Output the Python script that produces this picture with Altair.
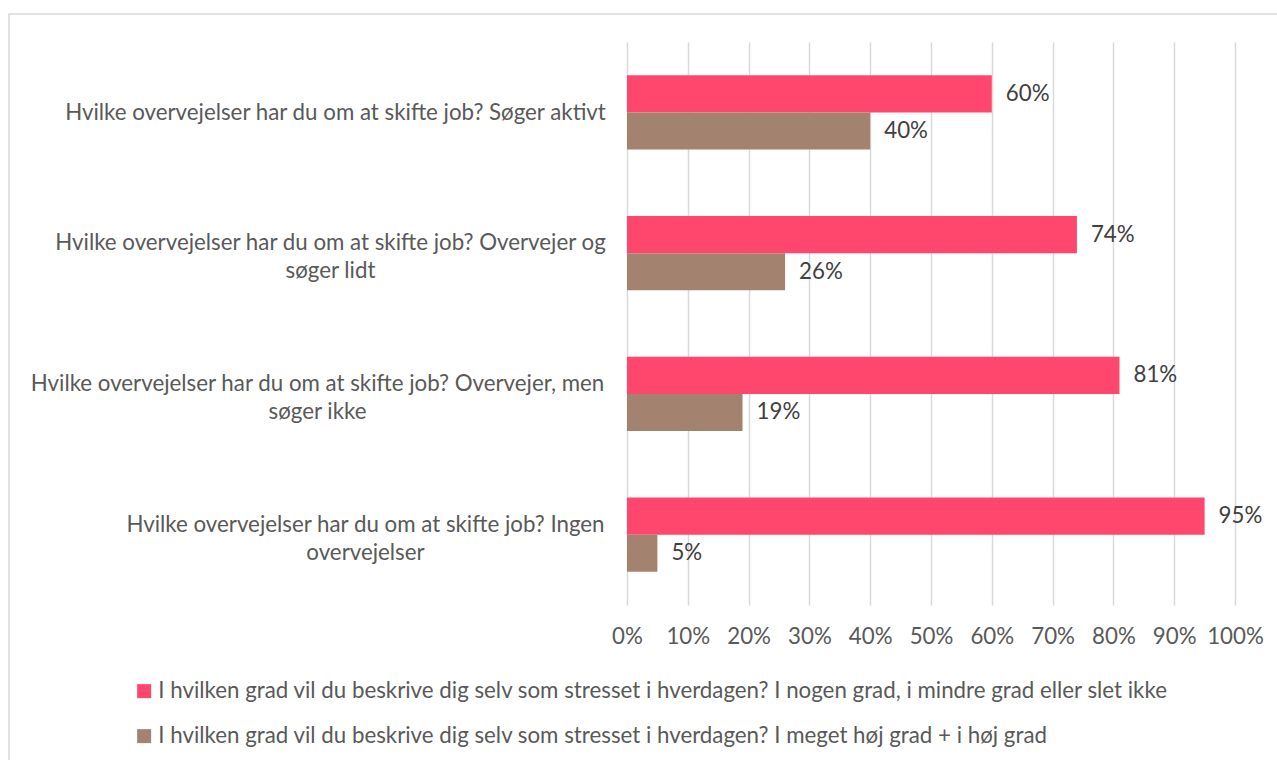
import altair as alt
import pandas as pd

categories = [
    "Hvilke overvejelser har du om at skifte job? Søger aktivt",
    "Hvilke overvejelser har du om at skifte job? Overvejer og søger lidt",
    "Hvilke overvejelser har du om at skifte job? Overvejer, men søger ikke",
    "Hvilke overvejelser har du om at skifte job? Ingen overvejelser",
]
# displayed label lines (wrapped as in the reference)
label_lines = [
    ["Hvilke overvejelser har du om at skifte job? Søger aktivt"],
    ["Hvilke overvejelser har du om at skifte job? Overvejer og", "søger lidt"],
    ["Hvilke overvejelser har du om at skifte job? Overvejer, men", "søger ikke"],
    ["Hvilke overvejelser har du om at skifte job? Ingen", "overvejelser"],
]
series = [
    "I hvilken grad vil du beskrive dig selv som stresset i hverdagen? I nogen grad, i mindre grad eller slet ikke",
    "I hvilken grad vil du beskrive dig selv som stresset i hverdagen? I meget høj grad + i høj grad",
]
values_low = [0.60, 0.74, 0.81, 0.95]
values_high = [0.40, 0.26, 0.19, 0.05]
colors = ["#FF466C", "#A38370"]
x_ticks = [0, 0.1, 0.2, 0.3, 0.4, 0.5, 0.6, 0.7, 0.8, 0.9, 1.0]

rows = []
for i, c in enumerate(categories):
    rows.append({"cat": c, "series": series[0], "value": values_low[i]})
    rows.append({"cat": c, "series": series[1], "value": values_high[i]})
df = pd.DataFrame(rows)

FONT = "Lato"
LABEL_COLOR = "#595959"
FS = 22.3

label_map = {c: l for c, l in zip(categories, label_lines)}
label_expr = "{" + ",".join(
    f"{repr(c)}: [{','.join(repr(x) for x in l)}]" for c, l in label_map.items()
) + "}[datum.value]"

# label padding per category so that each wrapped block is centred like Excel does
pads = [292, 297, 310, 262]
label_padding = {
    "condition": [
        {"test": f"datum.value === {repr(categories[1])}", "value": pads[1]},
        {"test": f"datum.value === {repr(categories[2])}", "value": pads[2]},
        {"test": f"datum.value === {repr(categories[3])}", "value": pads[3]},
    ],
    "value": pads[0],
}
# centre two-line blocks vertically on their band
label_offset = {
    "condition": {"test": f"datum.value === {repr(categories[0])}", "value": 1},
    "value": -10,
}

y_enc = alt.Y(
    "cat:N",
    sort=categories,
    scale=alt.Scale(paddingInner=0.474, paddingOuter=0.237),
    axis=alt.Axis(
        title=None,
        ticks=False,
        domain=False,
        labelExpr=label_expr,
        labelAlign="center",
        labelBaseline="middle",
        labelPadding=label_padding,
        labelOffset=label_offset,
        labelFont=FONT,
        labelFontSize=FS,
        labelColor=LABEL_COLOR,
        labelLineHeight=28,
        labelLimit=0,
    ),
)
yoff = alt.YOffset("series:N", sort=series, scale=alt.Scale(paddingInner=0, paddingOuter=0))
x_enc = alt.X(
    "value:Q",
    scale=alt.Scale(domain=[0, 1], nice=False),
    axis=alt.Axis(
        title=None,
        values=x_ticks,
        format=".0%",
        ticks=False,
        domain=False,
        grid=True,
        gridColor="#d9d9d9",
        gridWidth=1.5,
        labelPadding=20,
        labelOverlap=False,
        labelFlush=False,
        labelFont=FONT,
        labelFontSize=FS,
        labelColor=LABEL_COLOR,
    ),
)

bars = alt.Chart(df).mark_bar().encode(
    x=x_enc,
    y=y_enc,
    yOffset=yoff,
    color=alt.Color(
        "series:N",
        sort=series,
        scale=alt.Scale(domain=series, range=colors),
        legend=alt.Legend(
            title=None,
            orient="none",
            legendX=-494,
            legendY=638,
            direction="vertical",
            symbolType="square",
            symbolSize=196,
            symbolStrokeWidth=0,
            symbolOpacity=1,
            labelFont=FONT,
            labelFontSize=FS,
            labelColor=LABEL_COLOR,
            labelLimit=0,
            labelOffset=3,
            rowPadding=22,
        ),
    ),
)

text = alt.Chart(df).mark_text(
    align="left", baseline="middle", dx=14, font=FONT, fontSize=FS, color="#404040"
).encode(
    x="value:Q",
    y=alt.Y("cat:N", sort=categories),
    yOffset=alt.YOffset("series:N", sort=series),
    text=alt.Text("value:Q", format=".0%"),
)

border_df = pd.DataFrame({"b": [1]})
border = alt.Chart(border_df).mark_rect(
    fill=None, stroke="#d9d9d9", strokeWidth=1.5
).encode(
    x=alt.value(-618), x2=alt.value(700), y=alt.value(-28), y2=alt.value(760)
)

chart = alt.layer(border, bars, text).properties(
    width=608,
    height=563,
    autosize=alt.AutoSizeParams(type="none"),
    padding={"left": 627, "top": 42, "right": 42, "bottom": 155},
    background="white",
).configure_view(stroke=None)

chart.save("out.html", embed_options={"renderer": "svg", "actions": False})
